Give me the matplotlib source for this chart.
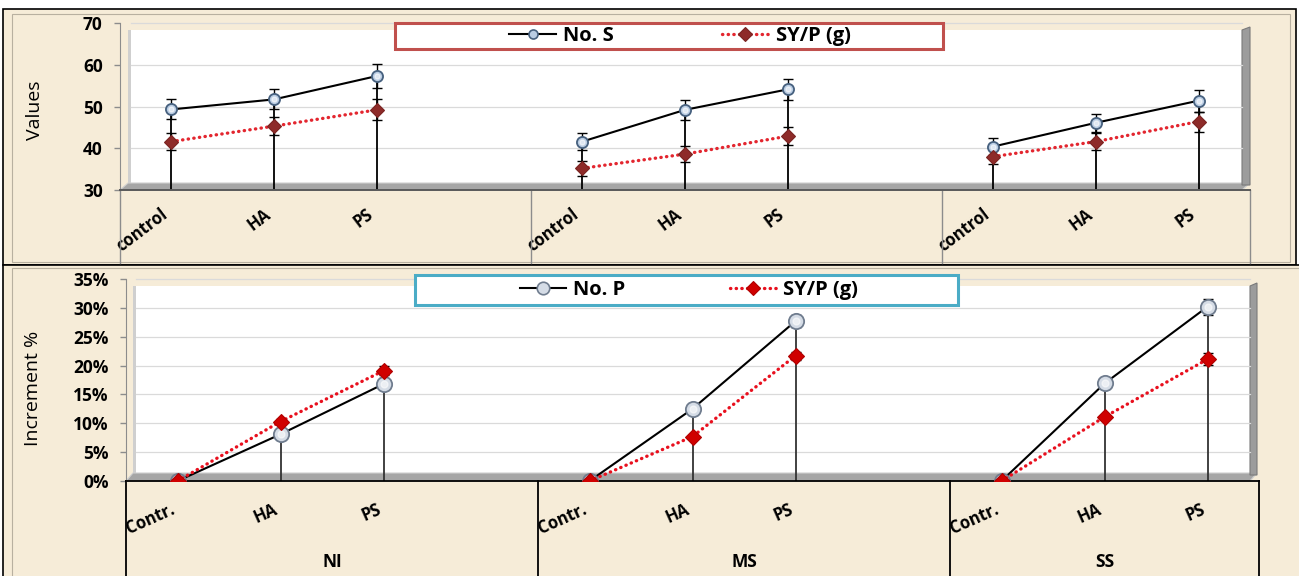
import numpy as np
import matplotlib
matplotlib.use("Agg")
import matplotlib.pyplot as plt
from matplotlib.lines import Line2D
from matplotlib.patches import Rectangle, Polygon
from matplotlib import transforms
from matplotlib.ticker import FuncFormatter

plt.rcParams['font.family'] = ['Open Sans', 'DejaVu Sans']

W, H = 1299, 576

treat_top = ['control', 'HA', 'PS']
treat_bot = ['Contr.', 'HA', 'PS']
soils = ['NI', 'MS', 'SS']
group_start = [0, 4, 8]

# upper panel: absolute values, one row per soil group
no_s = [[49.3, 51.7, 57.3], [41.6, 49.2, 54.1], [40.4, 46.1, 51.4]]
no_s_err = [[2.4, 2.4, 2.8], [2.0, 2.4, 2.6], [2.0, 2.1, 2.6]]
syp_val = [[41.6, 45.3, 49.2], [35.2, 38.6, 42.9], [38.0, 41.6, 46.4]]
syp_val_err = [[2.0, 2.2, 2.5], [1.8, 1.9, 2.1], [1.8, 2.0, 2.4]]

# lower panel: increment over control (%)
no_p_inc = [[0, 8.1, 16.8], [0, 12.5, 27.7], [0, 16.9, 30.2]]
no_p_inc_err = [[0, 0.3, 0.5], [0, 0.4, 1.1], [0, 0.4, 1.4]]
syp_inc = [[0, 10.3, 19.1], [0, 7.7, 21.7], [0, 11.1, 21.1]]
syp_inc_err = [[0, 0.4, 0.8], [0, 0.3, 0.7], [0, 0.4, 1.0]]

BEIGE = '#F6ECD8'


def px(x, y):
    return (x / W, 1 - y / H)


def fig_rect(fig, x0, y0, x1, y1, **kw):
    r = Rectangle(px(x0, y1), (x1 - x0) / W, (y1 - y0) / H,
                  transform=fig.transFigure, **kw)
    fig.add_artist(r)
    return r


def fig_poly(ax, pts, **kw):
    p = Polygon([px(x, y) for x, y in pts], closed=True,
                transform=ax.figure.transFigure, clip_on=False, **kw)
    ax.add_patch(p)


def draw_wall(ax, left, top, right, bottom, dx, dy, yticks):
    # white back wall, grey floor and side band (Excel 3-D look)
    fig = ax.figure
    fig_poly(ax, [(left + dx, top), (right, top), (right, bottom - dy),
                  (left + dx, bottom - dy)], facecolor='white',
             edgecolor='none', zorder=0.2)
    fig_poly(ax, [(left, bottom), (right, bottom), (right + dx, bottom - dy),
                  (left + dx, bottom - dy)], facecolor='#A6A6A6',
             edgecolor='#D0D0D0', lw=0.8, zorder=0.3)
    fig_poly(ax, [(right, top), (right + dx, top - 3),
                  (right + dx, bottom - dy + 2), (right, bottom - dy + 2)],
             facecolor='#9C9C9C', edgecolor='#7A7A7A', lw=0.8, zorder=0.3)
    fig_poly(ax, [(left + dx, top), (left + dx + 3, top),
                  (left + dx + 3, bottom - dy), (left + dx, bottom - dy)],
             facecolor='#CFCFCF', edgecolor='none', zorder=0.3)
    blend = transforms.blended_transform_factory(fig.transFigure, ax.transData)
    for yv in yticks[1:]:
        ax.plot([(left + dx + 3) / W, right / W], [yv, yv], transform=blend,
                color='#DADADA', lw=0.9, zorder=0.4, clip_on=False)


def draw_series(ax, vals, errs, vals2, errs2, base, s1, s2, drop_color):
    for g, x0 in enumerate(group_start):
        x = np.arange(3) + x0
        a, ea = np.array(vals[g]), np.array(errs[g])
        b, eb = np.array(vals2[g]), np.array(errs2[g])
        top = np.maximum(a, b)
        ax.vlines(x, base, top, color=drop_color, lw=1.3, zorder=2)
        ax.errorbar(x, a, yerr=ea, fmt='none', ecolor='black', elinewidth=1,
                    capsize=3.5, capthick=1, zorder=3)
        ax.errorbar(x, b, yerr=eb, fmt='none', ecolor='black', elinewidth=1,
                    capsize=3.5, capthick=1, zorder=3)
        ax.plot(x, a, **s1, zorder=4)
        ax.plot(x, a, 'o', color='white', alpha=0.55,
                ms=s1['ms'] * 0.45, zorder=5)
        ax.plot(x, b, **s2, zorder=6)


fig = plt.figure(figsize=(W / 100, H / 100), dpi=100)
fig.patch.set_facecolor('white')

# chart panels
fig_rect(fig, 3, 9, 1296, 265, facecolor=BEIGE, edgecolor='black', lw=1.2, zorder=-10)
fig_rect(fig, 3, 265, 1320, 590, facecolor=BEIGE, edgecolor='black', lw=1.2, zorder=-10)
fig_rect(fig, 12, 14, 1290, 262, facecolor='none', edgecolor='#B8B0A0', lw=0.8, zorder=-9)
fig_rect(fig, 12, 268, 1320, 590, facecolor='none', edgecolor='#B8B0A0', lw=0.8, zorder=-9)

tick_font = dict(fontsize=12, fontweight='bold')

# ---------- upper chart ----------
ax1 = fig.add_axes([120 / W, 1 - 190 / H, 1130 / W, 167 / H])
ax1.set_facecolor('none')
ax1.set_xlim(-0.5, 10.5)
ax1.set_ylim(30, 70)
yt1 = [30, 40, 50, 60, 70]
draw_wall(ax1, 120, 30, 1242, 190, 8, 7, yt1)

s_line = dict(color='black', lw=1.5, marker='o', ms=8, mfc='#B9CCE3',
              mec='#46607E', mew=1.3)
s_dots = dict(color='#E3262F', lw=2.4, ls=(0, (0.1, 1.6)), dash_capstyle='round',
              marker='D', ms=7.5, mfc='#8E2B29', mec='#7A2422', mew=0.8)
draw_series(ax1, no_s, no_s_err, syp_val, syp_val_err, 30, s_line, s_dots, 'black')

ax1.set_yticks(yt1)
ax1.set_yticklabels([str(v) for v in yt1], fontsize=12.5, fontweight='bold')
xt = [x0 + i for x0 in group_start for i in range(3)]
ax1.set_xticks(xt)
ax1.set_xticklabels(treat_top * 3, rotation=37, ha='right', fontsize=12,
                    fontweight='bold')
ax1.tick_params(axis='x', length=0, pad=11)
ax1.tick_params(axis='y', length=4.5, width=1, color='#8C8C8C', pad=8)
for side in ('top', 'right'):
    ax1.spines[side].set_visible(False)
ax1.spines['left'].set_color('#8C8C8C')
ax1.spines['bottom'].set_color('#595959')
ax1.spines['bottom'].set_linewidth(1.4)
for xs in (-0.5, 3.5, 7.5, 10.5):
    ax1.plot([xs, xs], [0, -0.44], color='#8C8C8C', lw=1,
             transform=transforms.blended_transform_factory(ax1.transData, ax1.transAxes),
             clip_on=False)
fig.text(*px(35, 110), 'Values', rotation=90, ha='center', va='center', fontsize=14)

# ---------- lower chart ----------
ax2 = fig.add_axes([126 / W, 1 - 481 / H, 1133 / W, 202 / H])
ax2.set_facecolor('none')
ax2.set_xlim(-0.5, 10.5)
ax2.set_ylim(0, 35)
yt2 = [0, 5, 10, 15, 20, 25, 30, 35]
draw_wall(ax2, 126, 286, 1250, 481, 7, 8, yt2)

p_line = dict(color='black', lw=1.5, marker='o', ms=11, mfc='#D5DCE6',
              mec='#6F7C8E', mew=1.3)
p_dots = dict(color='#E8101E', lw=2.4, ls=(0, (0.1, 1.6)), dash_capstyle='round',
              marker='D', ms=8.5, mfc='#D00000', mec='#B00000', mew=0.8)
draw_series(ax2, no_p_inc, no_p_inc_err, syp_inc, syp_inc_err, 0, p_line, p_dots, '#333333')

ax2.set_yticks(yt2)
ax2.yaxis.set_major_formatter(FuncFormatter(lambda v, _: f'{v:.0f}%'))
for t in ax2.get_yticklabels():
    t.set_fontweight('bold')
    t.set_fontsize(12.5)
ax2.set_xticks(xt)
ax2.set_xticklabels(treat_bot * 3, rotation=24, ha='right', **tick_font)
ax2.tick_params(axis='x', length=0, pad=14)
ax2.tick_params(axis='y', length=4.5, width=1, color='#8C8C8C', pad=8)
for side in ('top', 'right'):
    ax2.spines[side].set_visible(False)
ax2.spines['left'].set_color('#8C8C8C')
ax2.spines['bottom'].set_color('black')
ax2.spines['bottom'].set_linewidth(1.3)
blend2 = transforms.blended_transform_factory(ax2.transData, ax2.transAxes)
for xs in (-0.5, 3.5, 7.5, 10.5):
    ax2.plot([xs, xs], [0, -0.52], color='black', lw=1.3, transform=blend2,
             clip_on=False)
for g, name in enumerate(soils):
    lo = group_start[g] - 0.5
    hi = group_start[g + 1] - 0.5 if g < 2 else 10.5
    ax2.text((lo + hi) / 2, -0.40, name, transform=blend2, ha='center',
             va='center', fontsize=12.5, fontweight='bold')
fig.text(*px(33, 388), 'Increment %', rotation=90, ha='center', va='center', fontsize=14)


# ---------- legends ----------
def legend_box(x0, y0, x1, y1, edge, handles, labels, cx, gap):
    fig_rect(fig, x0, y0, x1, y1, facecolor='white', edgecolor=edge, lw=2.2, zorder=5)
    leg = fig.legend(handles, labels, loc='center', bbox_to_anchor=px(cx, (y0 + y1) / 2),
                     ncol=2, frameon=False, handlelength=2.3, handletextpad=0.35,
                     columnspacing=gap, prop=dict(size=14.5, weight='bold'))
    leg.set_zorder(6)


h1 = [Line2D([], [], color='black', lw=1.5, marker='o', ms=6.5, mfc='#B9CCE3',
             mec='#46607E', mew=1.2),
      Line2D([], [], color='#E3262F', lw=2.4, ls=(0, (0.1, 1.6)), dash_capstyle='round',
             marker='D', ms=7, mfc='#8E2B29', mec='#7A2422', mew=0.8)]
legend_box(395, 23, 943, 49, '#C0504D', h1, ['No. S', 'SY/P (g)'], 680, 5.4)

h2 = [Line2D([], [], color='black', lw=1.5, marker='o', ms=9, mfc='#D5DCE6',
             mec='#6F7C8E', mew=1.2),
      Line2D([], [], color='#E8101E', lw=2.4, ls=(0, (0.1, 1.6)), dash_capstyle='round',
             marker='D', ms=7.5, mfc='#D00000', mec='#B00000', mew=0.8)]
legend_box(415, 275, 958, 305, '#4BACC6', h2, ['No. P', 'SY/P (g)'], 689, 5.2)

fig.savefig('out.png', dpi=100, facecolor=fig.get_facecolor())
